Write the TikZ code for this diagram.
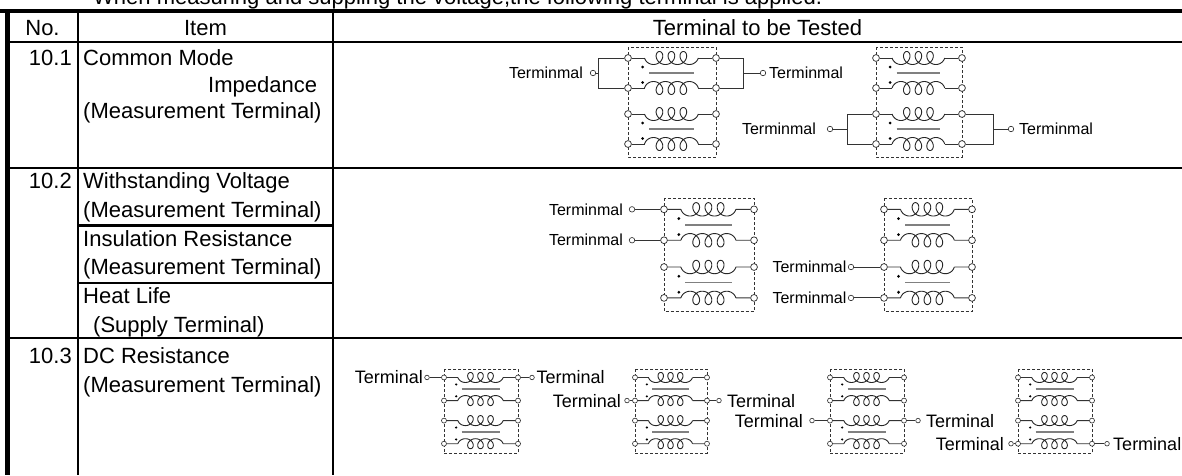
\documentclass[tikz,border=0pt]{standalone}
\usepackage{fontspec}
\setmainfont{Liberation Sans}
\newcommand\chokepair[6]{%
 \node[#6] (#1L#2) at (0,#4) {};
 \node[#6] (#1R#2) at (88,#4) {};
 \node[#6] (#1L#3) at (0,#5) {};
 \node[#6] (#1R#3) at (88,#5) {};
 \coordinate (#1a#2) at (16.5,#4);
 \coordinate (#1b#2) at (70.3,#4);
 \coordinate (#1a#3) at (16.5,#5);
 \coordinate (#1b#3) at (70.3,#5);
 \draw[wire] (#1L#2) -- (#1a#2);
 \draw[wire] (#1b#2) -- (#1R#2);
 \draw[wire] (#1L#3) -- (#1a#3);
 \draw[wire] (#1b#3) -- (#1R#3);
 \draw[coilline] plot[domain=0.5*pi:7.5*pi, samples=160, variable=\u] ({16.5+1.9*(\u-0.5*pi)-6*(sin(\u r)-1)}, {#4-6.5*cos(\u r)});
 \draw[coilline] plot[domain=0.5*pi:7.5*pi, samples=160, variable=\u] ({16.5+1.9*(\u-0.5*pi)-6*(sin(\u r)-1)}, {#5+6.5*cos(\u r)});
 \fill[black] (14.5,#4+9) circle (1.5);
 \fill[black] (14.5,#5-5.5) circle (1.5);
 \draw[coreline] (21,{(#4+#5)/2}) -- (66,{(#4+#5)/2});
}
\newcommand\chokemod[6]{%
\begin{scope}[shift={(#2,#3)}, xscale=#4, yscale=#5]
 \draw[boxdash] (0,0) rectangle (88,110);
 \chokepair{#1}{1}{2}{11}{41}{#6}
 \chokepair{#1}{3}{4}{67}{97}{#6}
\end{scope}}
\begin{document}
\begin{tikzpicture}[x=1pt,y=-1pt,
  tbl/.style={line width=2.5pt, draw=black},
  txt/.style={inner sep=0pt, font=\fontsize{22}{26}\selectfont},
  lbl/.style={inner sep=0pt, font=\fontsize{16}{18}\selectfont},
  lbls/.style={inner sep=0pt, font=\fontsize{18}{20}\selectfont},
  wire/.style={line width=0.9pt, draw=black!80},
  coilline/.style={line width=0.9pt, draw=black!85},
  coreline/.style={line width=1.5pt, draw=black!50},
  boxdash/.style={draw=black!80, line width=0.7pt, dash pattern=on 3pt off 2pt},
  tbig/.style={circle, draw=black!85, fill=white, line width=0.7pt, inner sep=0pt, minimum size=6.8pt},
  tsmall/.style={circle, draw=black!85, fill=white, line width=0.6pt, inner sep=0pt, minimum size=5pt},
  ext/.style={circle, draw=black!85, fill=white, line width=0.6pt, inner sep=0pt, minimum size=5.5pt},
  exts/.style={circle, draw=black!85, fill=white, line width=0.6pt, inner sep=0pt, minimum size=4.6pt}]
\useasboundingbox (0,0) rectangle (1182,475);
\clip (0,0) rectangle (1182,475);
\fill[white] (0,0) rectangle (1182,475);

% ---- table ----
\draw[line width=3.5pt] (0,11) -- (1182,11);
\draw[line width=4.5pt] (7.5,9.25) -- (7.5,475);
\draw[tbl] (78,11) -- (78,475);
\draw[tbl] (333,11) -- (333,475);
\draw[tbl] (7.5,42) -- (1182,42);
\draw[tbl] (7.5,168) -- (1182,168);
\draw[tbl] (7.5,338) -- (1182,338);
\draw[line width=2.3pt] (78,225.5) -- (333,225.5);
\draw[line width=2.3pt] (78,283) -- (333,283);

% ---- texts ----
\node[txt, anchor=base west] (intro) at (93,4) {When measuring and suppling the voltage,the following terminal is applied.};
\node[txt, anchor=base] (hno) at (42.5,35) {No.};
\node[txt, anchor=base] (hitem) at (205.5,35) {Item};
\node[txt, anchor=base] (hterm) at (757.5,35) {Terminal to be Tested};

\node[txt, anchor=base east] (n1) at (72,65) {10.1};
\node[txt, anchor=base west] (i1a) at (83,65) {Common Mode};
\node[txt, anchor=base west] (i1b) at (208,92) {Impedance};
\node[txt, anchor=base west] (i1c) at (83,118) {(Measurement Terminal)};

\node[txt, anchor=base east] (n2) at (72,188) {10.2};
\node[txt, anchor=base west] (i2a) at (83,188) {Withstanding Voltage};
\node[txt, anchor=base west] (i2b) at (83,217) {(Measurement Terminal)};
\node[txt, anchor=base west] (i2c) at (83,246) {Insulation Resistance};
\node[txt, anchor=base west] (i2d) at (83,274) {(Measurement Terminal)};
\node[txt, anchor=base west] (i2e) at (83,303) {Heat Life};
\node[txt, anchor=base west] (i2f) at (93,332) {(Supply Terminal)};

\node[txt, anchor=base east] (n3) at (72,363) {10.3};
\node[txt, anchor=base west] (i3a) at (83,363) {DC Resistance};
\node[txt, anchor=base west] (i3b) at (83,392) {(Measurement Terminal)};

% ---- 10.1 ----
\chokemod{A}{628}{47}{1}{1}{tbig}
\chokemod{B}{876}{47}{0.977}{1}{tbig}

\coordinate (ab1) at (598,73);
\draw[wire] (AL1) -- (AL1 -| ab1) |- (AL2);
\node[ext] (ae1) at (593,73) {};
\draw[wire] (ae1) -- (ab1);
\node[lbl, anchor=east] (at1) at (583,73) {Terminmal};

\coordinate (ab2) at (743,73);
\draw[wire] (AR1) -- (AR1 -| ab2) |- (AR2);
\node[ext] (ae2) at (763,73) {};
\draw[wire] (ab2) -- (ae2);
\node[lbl, anchor=west] (at2) at (769,73) {Terminmal};

\coordinate (bb1) at (847,129);
\draw[wire] (BL3) -- (BL3 -| bb1) |- (BL4);
\node[ext] (be1) at (830,129) {};
\draw[wire] (be1) -- (bb1);
\node[lbl, anchor=east] (bt1) at (816,129) {Terminmal};

\coordinate (bb2) at (993,129);
\draw[wire] (BR3) -- (BR3 -| bb2) |- (BR4);
\node[ext] (be2) at (1011,129) {};
\draw[wire] (bb2) -- (be2);
\node[lbl, anchor=west] (bt2) at (1019,129) {Terminmal};

% ---- 10.2 ----
\chokemod{C}{664}{198}{1.023}{1.03}{tbig}
\chokemod{D}{884}{198}{1}{1.03}{tbig}

\node[ext] (ce1) at ([xshift=-32pt]CL1) {};
\draw[wire] (ce1) -- (CL1);
\node[lbl, anchor=east] (ct1) at ([xshift=-9pt]ce1.center) {Terminmal};
\node[ext] (ce2) at ([xshift=-32pt]CL2) {};
\draw[wire] (ce2) -- (CL2);
\node[lbl, anchor=east] (ct2) at ([xshift=-9pt]ce2.center) {Terminmal};

\node[ext] (de3) at ([xshift=-33pt]DL3) {};
\draw[wire] (de3) -- (DL3);
\node[lbl, anchor=east] (dt3) at ([xshift=-4.5pt]de3.center) {Terminmal};
\node[ext] (de4) at ([xshift=-33pt]DL4) {};
\draw[wire] (de4) -- (DL4);
\node[lbl, anchor=east] (dt4) at ([xshift=-4.5pt]de4.center) {Terminmal};

% ---- 10.3 ----
\chokemod{E}{444}{369}{0.841}{0.77}{tsmall}
\chokemod{F}{635}{369}{0.818}{0.77}{tsmall}
\chokemod{G}{830}{369}{0.841}{0.77}{tsmall}
\chokemod{H}{1018}{369}{0.841}{0.77}{tsmall}

\node[exts] (ee1) at ([xshift=-17pt]EL1) {};
\draw[wire] (ee1) -- (EL1);
\node[lbls, anchor=east] (et1) at ([xshift=-4pt]ee1.center) {Terminal};
\node[exts] (ee2) at ([xshift=14pt]ER1) {};
\draw[wire] (ER1) -- (ee2);
\node[lbls, anchor=west] (et2) at ([xshift=4.5pt]ee2.center) {Terminal};

\node[exts] (fe1) at ([xshift=-8pt]FL2) {};
\draw[wire] (fe1) -- (FL2);
\node[lbls, anchor=east] (ft1) at ([xshift=-6pt]fe1.center) {Terminal};
\node[exts] (fe2) at ([xshift=12pt]FR2) {};
\draw[wire] (FR2) -- (fe2);
\node[lbls, anchor=west] (ft2) at ([xshift=8pt]fe2.center) {Terminal};

\node[exts] (ge1) at ([xshift=-18pt]GL3) {};
\draw[wire] (ge1) -- (GL3);
\node[lbls, anchor=east] (gt1) at ([xshift=-9pt]ge1.center) {Terminal};
\node[exts] (ge2) at ([xshift=14pt]GR3) {};
\draw[wire] (GR3) -- (ge2);
\node[lbls, anchor=west] (gt2) at ([xshift=8pt]ge2.center) {Terminal};

\node[exts] (he1) at ([xshift=-7pt]HL4) {};
\draw[wire] (he1) -- (HL4);
\node[lbls, anchor=east] (ht1) at ([xshift=-7pt]he1.center) {Terminal};
\node[exts] (he2) at ([xshift=15pt]HR4) {};
\draw[wire] (HR4) -- (he2);
\node[lbls, anchor=west] (ht2) at ([xshift=6pt]he2.center) {Terminal};
\end{tikzpicture}
\end{document}
